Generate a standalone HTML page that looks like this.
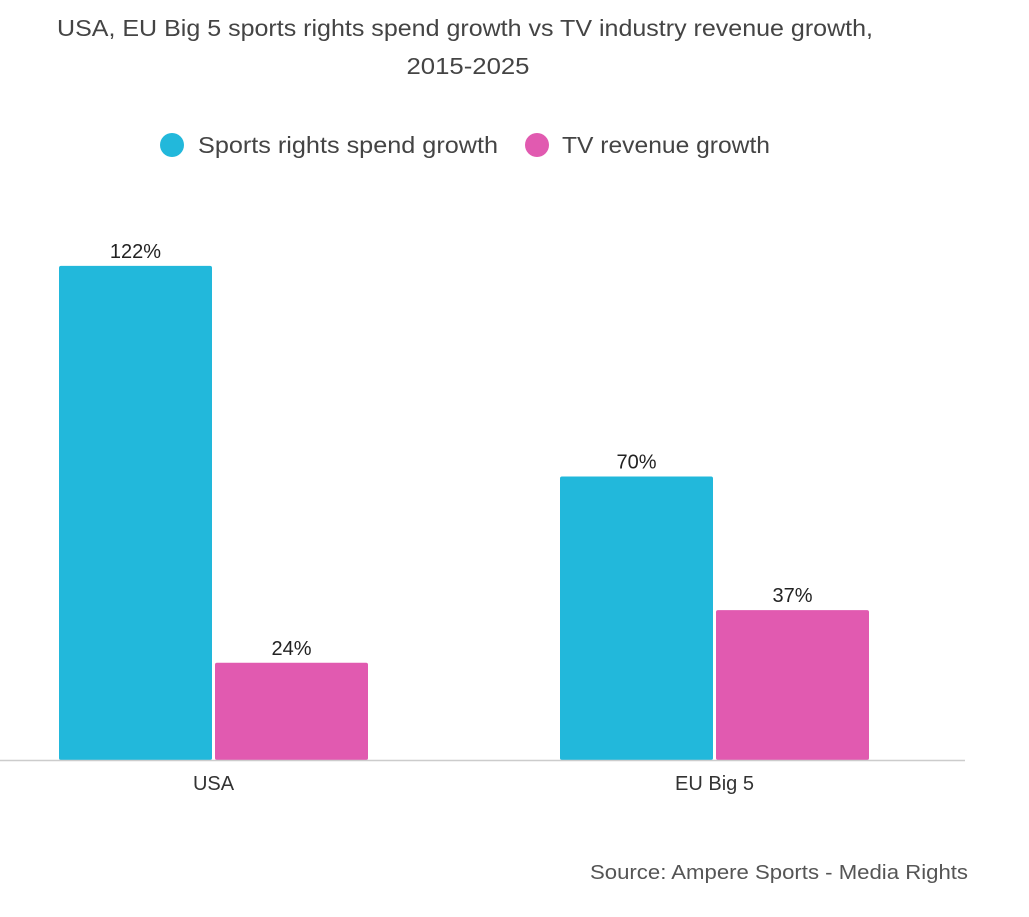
<!DOCTYPE html>
<html><head><meta charset="utf-8"><style>
body{margin:0;background:#fff;font-family:"Liberation Sans",sans-serif;}
svg{display:block}
</style></head><body>
<svg width="1029" height="917" id="chart">
<text x="465" y="36" text-anchor="middle" font-size="23" fill="#444" textLength="816" lengthAdjust="spacingAndGlyphs">USA, EU Big 5 sports rights spend growth vs TV industry revenue growth,</text>
<text x="468" y="74" text-anchor="middle" font-size="23" fill="#444" textLength="123" lengthAdjust="spacingAndGlyphs">2015-2025</text>
<g>
<circle cx="172" cy="145" r="12" fill="#22b8db"/>
<text x="198" y="153" font-size="23" fill="#444" textLength="300" lengthAdjust="spacingAndGlyphs">Sports rights spend growth</text>
<circle cx="537" cy="145" r="12" fill="#e15ab0"/>
<text x="562" y="153" font-size="23" fill="#444" textLength="208" lengthAdjust="spacingAndGlyphs">TV revenue growth</text>
</g>
<g id="plot"></g>
<line x1="0" x2="965" y1="760.5" y2="760.5" stroke="#ccc" stroke-width="1.5"/>
<text x="968" y="879" text-anchor="end" font-size="20" fill="#555" textLength="378" lengthAdjust="spacingAndGlyphs">Source: Ampere Sports - Media Rights</text>
</svg>
<script>
const categories = ["USA", "EU Big 5"];
const sportsValues = [122, 70];
const tvValues = [24, 37];
const seriesColors = ["#22b8db", "#e15ab0"];
const NS = "http://www.w3.org/2000/svg";
const plot = document.getElementById("plot");
const baseY = 760, pxPer = 4.05;
const y = v => baseY - v * pxPer;
const groupX = i => 59 + i * 501;
const barW = 153, gap = 3;
function mk(tag, attrs){const e=document.createElementNS(NS,tag);for(const k in attrs)e.setAttribute(k,attrs[k]);plot.appendChild(e);return e;}
categories.forEach((c,i)=>{
  [sportsValues, tvValues].forEach((arr,s)=>{
    const v = arr[i];
    const x = groupX(i) + s*(barW+gap);
    const r = mk("rect",{x:x,y:y(v),width:barW,height:baseY-y(v),fill:seriesColors[s],rx:2});
    
    
    const t = mk("text",{x:x+barW/2,y:y(v)-8,"text-anchor":"middle","font-size":"20",fill:"#222"});
    t.textContent = v + "%";
    
    
  });
  const l = mk("text",{x:groupX(i)+barW+gap/2,y:790,"text-anchor":"middle","font-size":"20",fill:"#333"});
  l.textContent = c;
  
  
});
</script>
</body></html>
